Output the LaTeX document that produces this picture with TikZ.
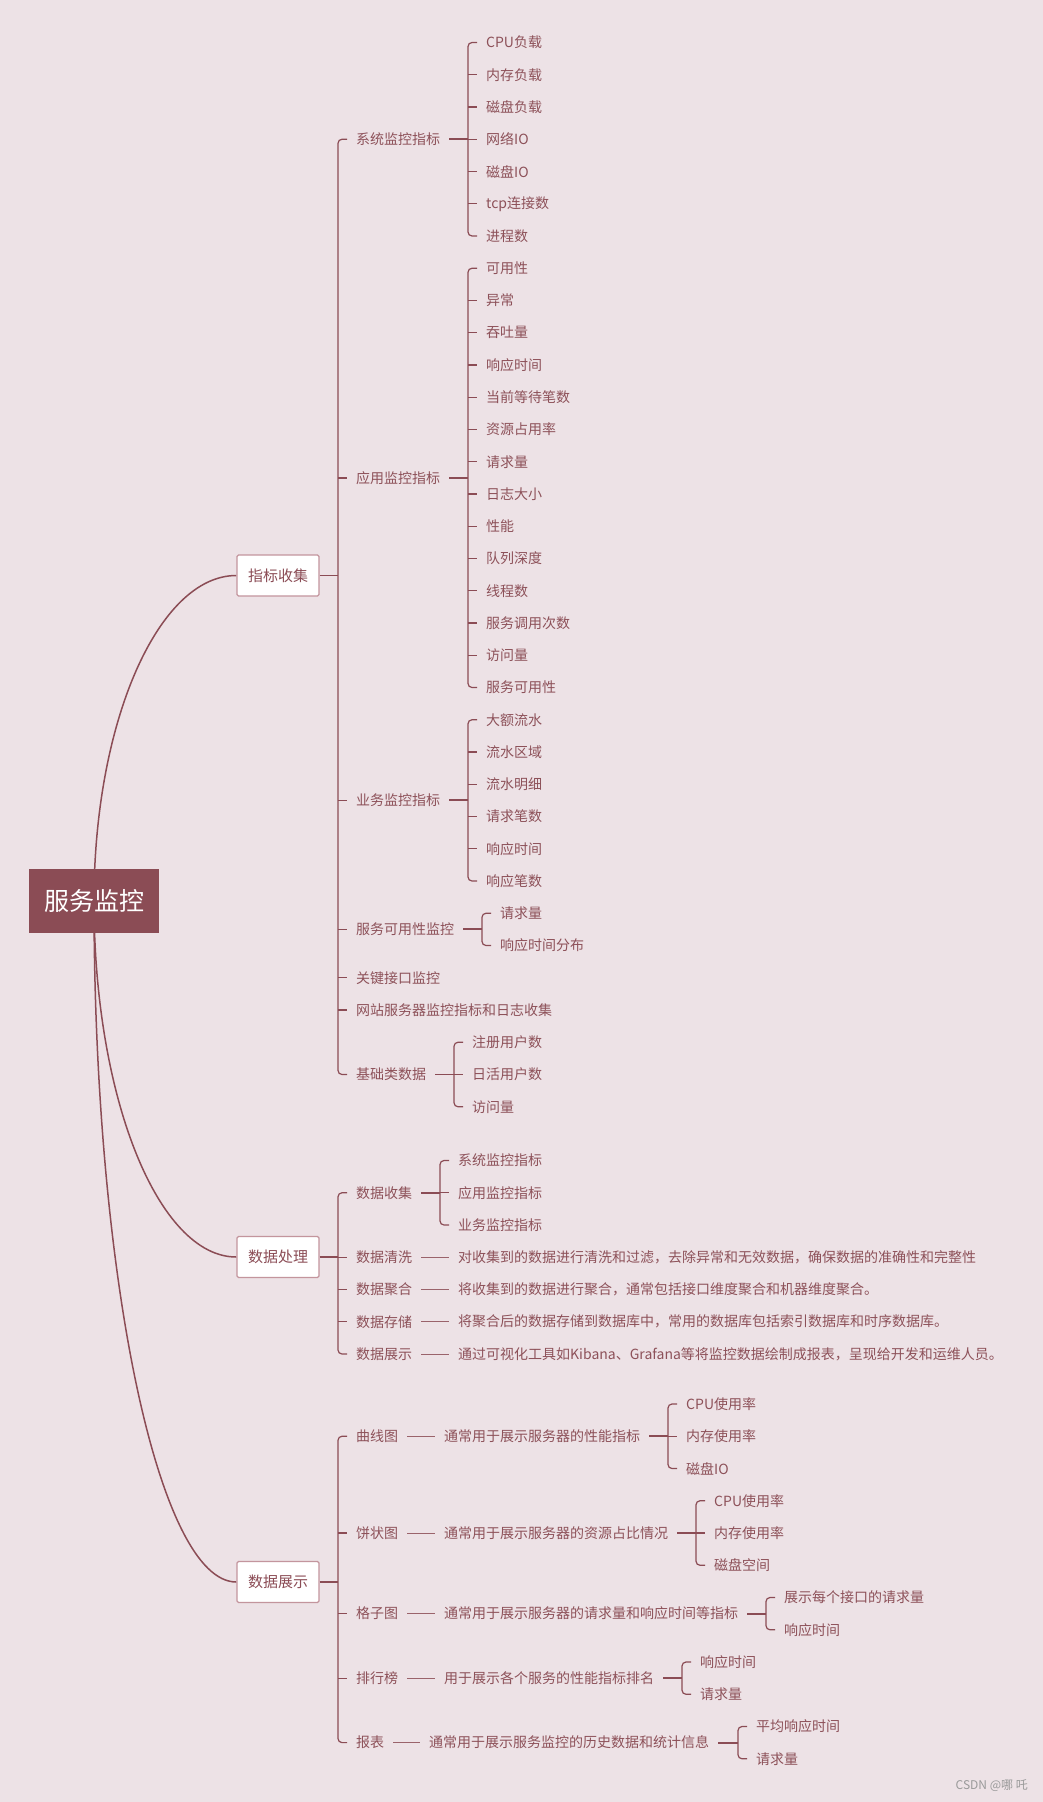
\documentclass[tikz,border=0pt]{standalone}
\usepackage{fontspec}
\newfontfamily\cjk{Noto Sans CJK SC}
\usetikzlibrary{backgrounds}
\definecolor{bg}{HTML}{EDE2E6}
\definecolor{mc}{HTML}{8B4C55}
\definecolor{tc}{HTML}{8D5159}
\definecolor{bd}{HTML}{C3959D}
\definecolor{wm}{HTML}{9A9A9A}
\newcommand\bracketdraw[2]{\draw[br] ([xshift=-9pt]#1.west) -- ([xshift=-18pt]#1.west) -- ([xshift=-18pt]#2.west) -- ([xshift=-9pt]#2.west);}
\newcommand\tickdraw[1]{\draw[tick] ([xshift=-18pt]#1.west) -- ([xshift=-9pt]#1.west);}
\newcommand\conndraw[2]{\draw[conn] ([xshift=9pt]#1.east) -- ([xshift=-18pt]#2.west |- #1.east);}
\newcommand\dashdraw[2]{\draw[dashl] ([xshift=9pt]#1.east) -- ([xshift=-9pt]#2.west);}
\begin{document}
\begin{tikzpicture}[x=1pt,y=-1pt,
  txt/.style={anchor=west,inner sep=0pt,text=tc,font=\cjk\fontsize{14}{16}\selectfont},
  lvone/.style={draw=bd,line width=1.3pt,fill=white,rounded corners=1.5pt,minimum width=82pt,minimum height=41pt,inner sep=0pt,text=mc,font=\cjk\fontsize{15}{17}\selectfont},
  rootbox/.style={fill=mc,minimum width=130pt,minimum height=64pt,inner sep=0pt,text=white,font=\cjk\fontsize{25}{28}\selectfont},
  conn/.style={draw=mc,line width=1.9pt},
  br/.style={draw=mc,line width=1.2pt,rounded corners=4pt},
  tick/.style={draw=mc,line width=1.2pt},
  dashl/.style={draw=mc!85!bg,line width=1pt},
  curve/.style={draw=mc,line width=1.5pt},
  wmark/.style={anchor=east,inner sep=0pt,text=wm,font=\cjk\fontsize{12}{14}\selectfont}]
\useasboundingbox (0,0) rectangle (1043,1802);

% root
\node[rootbox] (root) at (94,901) {服务监控};

% ---------- section 1
\node[lvone] (b1) at (278,575.5) {指标收集};
\node[txt] (s11) at (356,139.25) {系统监控指标};
\node[txt] (s12) at (356,477.9) {应用监控指标};
\node[txt] (s13) at (356,800.4) {业务监控指标};
\node[txt] (s14) at (356,929.4) {服务可用性监控};
\node[txt] (s15) at (356,977.75) {关键接口监控};
\node[txt] (s16) at (356,1010) {网站服务器监控指标和日志收集};
\node[txt] (s17) at (356,1074.5) {基础类数据};

\foreach \t [count=\i from 0] in {CPU负载,内存负载,磁盘负载,网络IO,磁盘IO,tcp连接数,进程数}
  \node[txt] (x\i) at (486,{42.5+\i*32.25}) {\t};
\foreach \t [count=\i from 0] in {可用性,异常,吞吐量,响应时间,当前等待笔数,资源占用率,请求量,日志大小,性能,队列深度,线程数,服务调用次数,访问量,服务可用性}
  \node[txt] (y\i) at (486,{42.5+(\i+7)*32.25}) {\t};
\foreach \t [count=\i from 0] in {大额流水,流水区域,流水明细,请求笔数,响应时间,响应笔数}
  \node[txt] (z\i) at (486,{42.5+(\i+21)*32.25}) {\t};
\foreach \t [count=\i from 0] in {请求量,响应时间分布}
  \node[txt] (w\i) at (500,{42.5+(\i+27)*32.25}) {\t};
\foreach \t [count=\i from 0] in {注册用户数,日活用户数,访问量}
  \node[txt] (v\i) at (472,{42.5+(\i+31)*32.25}) {\t};

% ---------- section 2
\node[lvone] (b2) at (278,1257) {数据处理};
\node[txt] (s21) at (356,1192.75) {数据收集};
\node[txt] (s22) at (356,1257.25) {数据清洗};
\node[txt] (s23) at (356,1289.5) {数据聚合};
\node[txt] (s24) at (356,1321.75) {数据存储};
\node[txt] (s25) at (356,1354) {数据展示};
\foreach \t [count=\i from 0] in {系统监控指标,应用监控指标,业务监控指标}
  \node[txt] (u\i) at (458,{1160.5+\i*32.25}) {\t};
\node[txt] (d22) at (458,1257.25) {对收集到的数据进行清洗和过滤，去除异常和无效数据，确保数据的准确性和完整性};
\node[txt] (d23) at (458,1289.5) {将收集到的数据进行聚合，通常包括接口维度聚合和机器维度聚合。};
\node[txt] (d24) at (458,1321.75) {将聚合后的数据存储到数据库中，常用的数据库包括索引数据库和时序数据库。};
\node[txt] (d25) at (458,1354) {通过可视化工具如Kibana、Grafana等将监控数据绘制成报表，呈现给开发和运维人员。};

% ---------- section 3
\node[lvone] (b3) at (278,1582) {数据展示};
\node[txt] (s31) at (356,1436.25) {曲线图};
\node[txt] (s32) at (356,1533) {饼状图};
\node[txt] (s33) at (356,1613.6) {格子图};
\node[txt] (s34) at (356,1678.1) {排行榜};
\node[txt] (s35) at (356,1742.6) {报表};
\node[txt] (d31) at (444,1436.25) {通常用于展示服务器的性能指标};
\node[txt] (d32) at (444,1533) {通常用于展示服务器的资源占比情况};
\node[txt] (d33) at (444,1613.6) {通常用于展示服务器的请求量和响应时间等指标};
\node[txt] (d34) at (444,1678.1) {用于展示各个服务的性能指标排名};
\node[txt] (d35) at (429,1742.6) {通常用于展示服务监控的历史数据和统计信息};
\foreach \t [count=\i from 0] in {CPU使用率,内存使用率,磁盘IO}
  \node[txt] (p\i) at (686,{1404+\i*32.25}) {\t};
\foreach \t [count=\i from 0] in {CPU使用率,内存使用率,磁盘空间}
  \node[txt] (q\i) at (714,{1500.75+\i*32.25}) {\t};
\foreach \t [count=\i from 0] in {展示每个接口的请求量,响应时间}
  \node[txt] (r\i) at (784,{1597.5+\i*32.25}) {\t};
\foreach \t [count=\i from 0] in {响应时间,请求量}
  \node[txt] (t\i) at (700,{1662+\i*32.25}) {\t};
\foreach \t [count=\i from 0] in {平均响应时间,请求量}
  \node[txt] (o\i) at (756,{1726.5+\i*32.25}) {\t};

\node[wmark] (wmk) at (1028,1786) {CSDN @哪 吒};

% ---------- connectors, section 1
\draw[conn] (b1.east) -- ([xshift=-18pt]s11.west |- b1.east);
\bracketdraw{s11}{s17}
\foreach \n in {s12,s13,s14,s15,s16} {\tickdraw{\n}}
\conndraw{s11}{x0}
\bracketdraw{x0}{x6}
\foreach \i in {1,...,5} {\tickdraw{x\i}}
\conndraw{s12}{y0}
\bracketdraw{y0}{y13}
\foreach \i in {1,...,12} {\tickdraw{y\i}}
\conndraw{s13}{z0}
\bracketdraw{z0}{z5}
\foreach \i in {1,...,4} {\tickdraw{z\i}}
\conndraw{s14}{w0}
\bracketdraw{w0}{w1}
\conndraw{s17}{v0}
\bracketdraw{v0}{v2}
\tickdraw{v1}

% ---------- connectors, section 2
\draw[conn] (b2.east) -- ([xshift=-18pt]s21.west |- b2.east);
\bracketdraw{s21}{s25}
\foreach \n in {s22,s23,s24} {\tickdraw{\n}}
\conndraw{s21}{u0}
\bracketdraw{u0}{u2}
\tickdraw{u1}
\dashdraw{s22}{d22}
\dashdraw{s23}{d23}
\dashdraw{s24}{d24}
\dashdraw{s25}{d25}

% ---------- connectors, section 3
\draw[conn] (b3.east) -- ([xshift=-18pt]s31.west |- b3.east);
\bracketdraw{s31}{s35}
\foreach \n in {s32,s33,s34} {\tickdraw{\n}}
\dashdraw{s31}{d31}
\dashdraw{s32}{d32}
\dashdraw{s33}{d33}
\dashdraw{s34}{d34}
\dashdraw{s35}{d35}
\conndraw{d31}{p0}
\bracketdraw{p0}{p2}
\tickdraw{p1}
\conndraw{d32}{q0}
\bracketdraw{q0}{q2}
\tickdraw{q1}
\conndraw{d33}{r0}
\bracketdraw{r0}{r1}
\conndraw{d34}{t0}
\bracketdraw{t0}{t1}
\conndraw{d35}{o0}
\bracketdraw{o0}{o1}

% ---------- background and curves
\begin{pgfonlayer}{background}
\fill[bg] (0,0) rectangle (1043,1802);
\draw[curve] (root.center) .. controls +(0,-179) and +(-78,0) .. (b1.west);
\draw[curve] (root.center) .. controls +(0,197) and +(-78,0) .. (b2.west);
\draw[curve] (root.center) .. controls +(0,376) and +(-78,0) .. (b3.west);
\end{pgfonlayer}
\end{tikzpicture}
\end{document}
